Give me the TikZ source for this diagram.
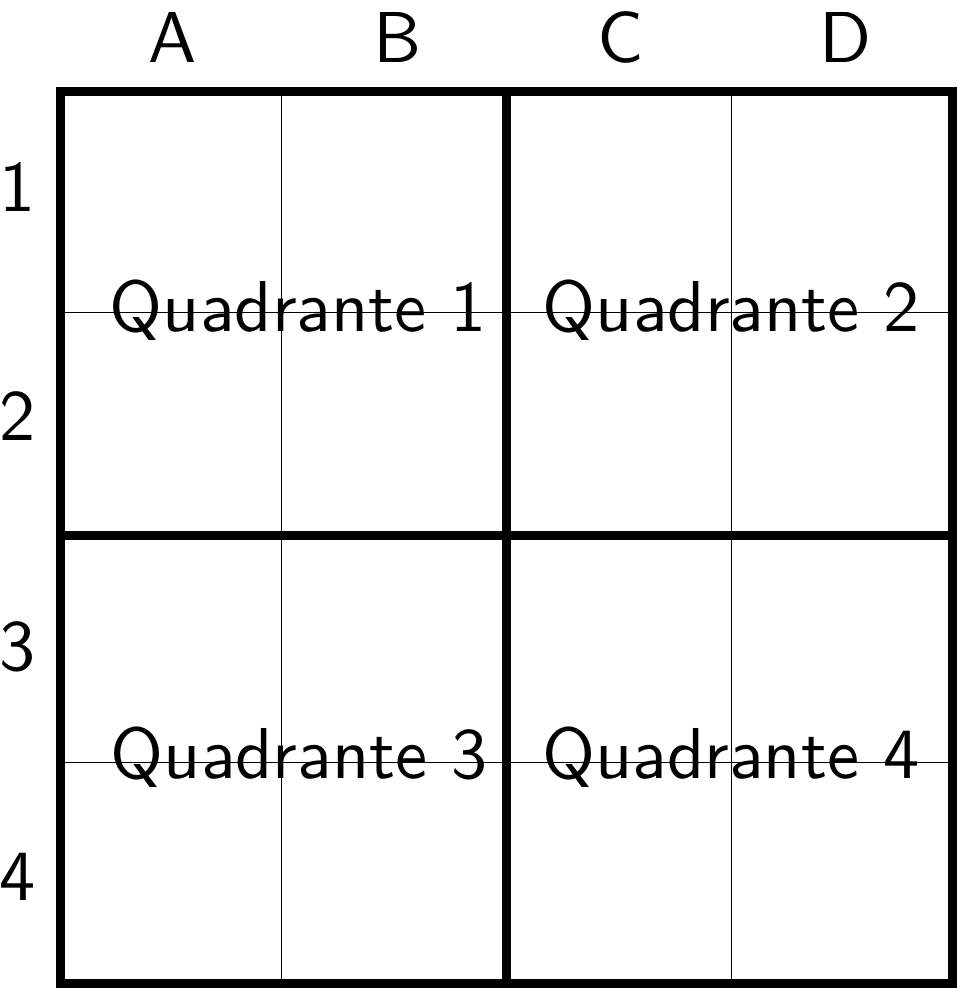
\documentclass[tikz,border=0pt]{standalone}
\usepackage{fontspec}
\newfontfamily\lblfont{lmsans10-regular.otf}
\begin{document}
\begin{tikzpicture}[x=0.01cm,y=-0.01cm,
  finegrid/.style={line width=0.35pt, black},
  heavygrid/.style={line width=0.09cm, black},
  lbl/.style={font=\lblfont\fontsize{20.5}{24}\selectfont, inner sep=0pt, anchor=base}]
\useasboundingbox (0,0) rectangle (957,988);
% thin lines
\draw[finegrid] (281.7,91.5) -- (281.7,983.5);
\draw[finegrid] (731.7,91.5) -- (731.7,983.5);
\draw[finegrid] (60.5,312.3) -- (952.5,312.3);
\draw[finegrid] (60.5,762.3) -- (952.5,762.3);
% thick lines
\draw[heavygrid] (506.7,91.5) -- (506.7,983.5);
\draw[heavygrid] (60.5,535.3) -- (952.5,535.3);
\draw[heavygrid] (60.5,91.5) rectangle (952.5,983.5);
% column labels
\node[lbl] (colA) at (173,62.3) {A};
\node[lbl] (colB) at (397.5,62.3) {B};
\node[lbl] (colC) at (621,62.3) {C};
\node[lbl] (colD) at (846,62.3) {D};
% row labels
\node[lbl] (row1) at (18,211.7) {1};
\node[lbl] (row2) at (17.5,440.7) {2};
\node[lbl] (row3) at (18,670) {3};
\node[lbl] (row4) at (18,900.7) {4};
% quadrant labels
\node[lbl] (q1) at (298.3,331.7) {Quadrante 1};
\node[lbl] (q2) at (731.3,331.7) {Quadrante 2};
\node[lbl] (q3) at (299.2,778.3) {Quadrante 3};
\node[lbl] (q4) at (730.8,778.3) {Quadrante 4};
\end{tikzpicture}
\end{document}
